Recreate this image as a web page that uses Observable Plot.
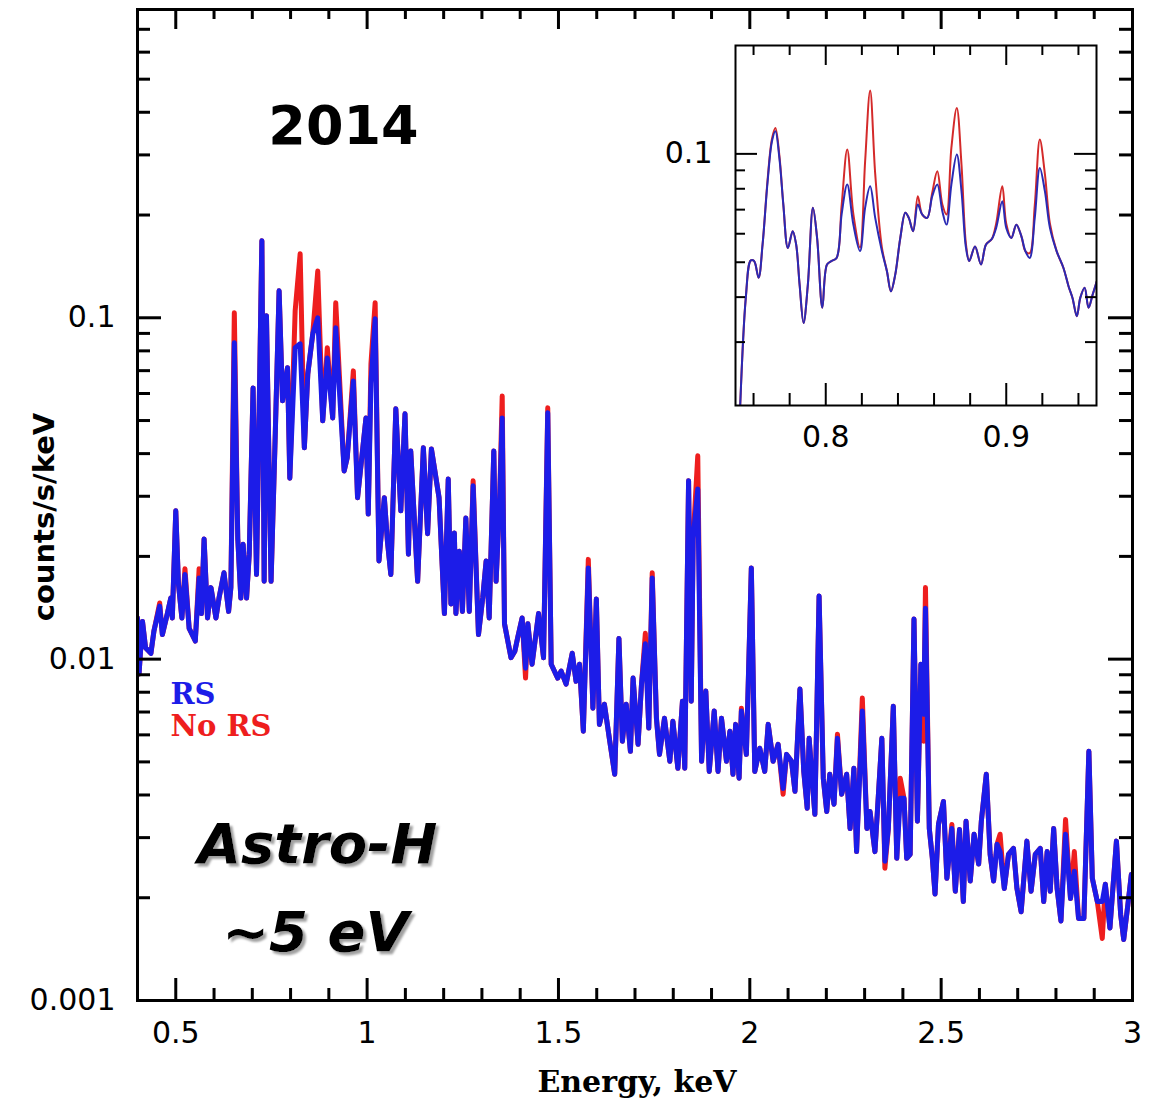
<!DOCTYPE html>
<html>
<head>
<meta charset="utf-8">
<script src="https://cdn.jsdelivr.net/npm/d3@7"></script>
<script src="https://cdn.jsdelivr.net/npm/@observablehq/plot@0.6"></script>
<style>
  body { margin: 0; background: #fff; }
  #wrap { position: relative; width: 1156px; height: 1101px; background: #fff; }
  #main { position: absolute; left: 0; top: 0; }
  #inset { position: absolute; left: 640px; top: 30px; }
</style>
</head>
<body>
<div id="wrap"><div id="main"></div><div id="inset"></div></div>
<script>
// ---------- main spectrum (energy in keV, counts/s/keV) ----------
const energy = [0.400,0.404,0.413,0.421,0.435,0.443,0.458,0.465,0.478,0.487,0.491,0.500,0.507,0.516,0.524,0.535,0.551,0.561,0.567,0.574,0.583,0.592,0.605,0.613,0.626,0.638,0.644,0.653,0.662,0.670,0.676,0.685,0.692,0.702,0.711,0.725,0.731,0.737,0.749,0.760,0.770,0.779,0.792,0.798,0.812,0.825,0.836,0.845,0.858,0.871,0.884,0.896,0.910,0.918,0.940,0.948,0.964,0.975,0.997,1.003,1.010,1.021,1.031,1.045,1.053,1.062,1.075,1.088,1.099,1.108,1.114,1.132,1.147,1.158,1.168,1.188,1.202,1.212,1.219,1.228,1.232,1.241,1.249,1.258,1.267,1.277,1.291,1.302,1.311,1.319,1.331,1.337,1.346,1.353,1.359,1.376,1.386,1.393,1.405,1.414,1.420,1.431,1.448,1.461,1.472,1.481,1.498,1.507,1.520,1.536,1.546,1.555,1.565,1.578,1.590,1.599,1.607,1.620,1.634,1.647,1.658,1.667,1.677,1.688,1.695,1.708,1.717,1.727,1.736,1.745,1.756,1.764,1.777,1.791,1.799,1.812,1.824,1.830,1.840,1.847,1.852,1.864,1.874,1.885,1.894,1.907,1.917,1.926,1.939,1.948,1.956,1.963,1.972,1.978,1.991,2.004,2.013,2.026,2.039,2.048,2.061,2.074,2.087,2.096,2.109,2.118,2.131,2.141,2.150,2.155,2.170,2.181,2.192,2.201,2.209,2.220,2.229,2.240,2.253,2.262,2.272,2.279,2.294,2.306,2.314,2.327,2.345,2.353,2.362,2.375,2.384,2.393,2.403,2.410,2.419,2.429,2.438,2.447,2.454,2.459,2.469,2.477,2.484,2.493,2.506,2.515,2.528,2.537,2.548,2.558,2.565,2.576,2.586,2.598,2.605,2.618,2.628,2.637,2.646,2.654,2.665,2.676,2.689,2.698,2.709,2.724,2.735,2.746,2.759,2.768,2.777,2.785,2.794,2.803,2.813,2.825,2.838,2.848,2.859,2.873,2.886,2.895,2.908,2.921,2.929,2.941,2.958,2.969,2.977,2.988,2.997,3.000];

const rs = [0.0132,0.00904,0.0129,0.0108,0.0104,0.0121,0.0143,0.0118,0.0136,0.0151,0.0132,0.0272,0.0166,0.0132,0.0177,0.0123,0.0113,0.0173,0.0136,0.0225,0.0132,0.0162,0.0132,0.0151,0.0179,0.0138,0.0162,0.0845,0.0226,0.0151,0.0217,0.0151,0.0203,0.0623,0.0177,0.168,0.0169,0.1014,0.0169,0.0457,0.120,0.0571,0.0714,0.0339,0.0817,0.0839,0.0416,0.0685,0.0898,0.100,0.0499,0.0763,0.0509,0.0935,0.0356,0.0389,0.0653,0.0297,0.0509,0.0266,0.0641,0.0993,0.0194,0.0297,0.0222,0.0177,0.0541,0.0272,0.0523,0.0203,0.0407,0.0169,0.0416,0.0233,0.0413,0.0297,0.0136,0.0337,0.0145,0.0234,0.0136,0.0207,0.0138,0.0259,0.0138,0.0322,0.0118,0.0151,0.0194,0.0132,0.0407,0.0169,0.0285,0.0509,0.0127,0.0101,0.01055,0.0115,0.0132,0.00941,0.0127,0.00966,0.0136,0.0101,0.0527,0.00966,0.00880,0.00923,0.00845,0.0104,0.00861,0.00966,0.00615,0.0185,0.00718,0.0150,0.00644,0.00738,0.00575,0.00460,0.0115,0.00575,0.00738,0.00537,0.00880,0.00563,0.00845,0.0111,0.00628,0.0173,0.00671,0.00526,0.00671,0.00502,0.00658,0.00479,0.00753,0.00479,0.0333,0.00753,0.0226,0.0315,0.00502,0.00806,0.00469,0.00705,0.00469,0.00671,0.00502,0.00615,0.00460,0.00644,0.00448,0.00705,0.00526,0.0185,0.00469,0.00548,0.00469,0.00644,0.00502,0.00563,0.00418,0.00526,0.00502,0.00410,0.00817,0.00469,0.00366,0.00586,0.00351,0.0153,0.00448,0.00358,0.00460,0.00376,0.00586,0.00402,0.00460,0.00319,0.00479,0.00273,0.00705,0.00319,0.00358,0.00273,0.00586,0.00256,0.00319,0.00728,0.00261,0.00391,0.00391,0.00261,0.00268,0.0131,0.00335,0.00966,0.00690,0.0141,0.00319,0.00261,0.00205,0.00328,0.00383,0.00228,0.00319,0.00209,0.00317,0.00195,0.00335,0.00224,0.00307,0.00251,0.00335,0.00460,0.00268,0.00224,0.00287,0.00273,0.00213,0.00268,0.00279,0.00213,0.00182,0.00293,0.00209,0.00268,0.00279,0.00195,0.00273,0.00209,0.00319,0.00213,0.00171,0.00307,0.00199,0.00239,0.00174,0.00174,0.00537,0.00228,0.00195,0.00195,0.00219,0.00163,0.00293,0.00179,0.00151,0.00191,0.00234,0.00220];

const noRs = [0.0132,0.00904,0.0129,0.0108,0.0104,0.0121,0.0146,0.0118,0.0136,0.0151,0.0132,0.0272,0.0166,0.0132,0.0184,0.0123,0.0113,0.0184,0.0136,0.0225,0.0132,0.0162,0.0132,0.0151,0.0179,0.0138,0.0162,0.1034,0.0226,0.0151,0.0217,0.0151,0.0203,0.0623,0.0177,0.168,0.0169,0.1014,0.0169,0.0457,0.120,0.0571,0.0714,0.0339,0.1048,0.154,0.0416,0.0685,0.0898,0.137,0.0499,0.0817,0.0509,0.1107,0.0356,0.0389,0.0699,0.0297,0.0509,0.0266,0.0733,0.1107,0.0194,0.0297,0.0222,0.0177,0.0541,0.0272,0.0523,0.0203,0.0407,0.0169,0.0416,0.0233,0.0413,0.0297,0.0136,0.0337,0.0145,0.0234,0.0136,0.0207,0.0138,0.0259,0.0138,0.0333,0.0118,0.0151,0.0194,0.0132,0.0407,0.0169,0.0285,0.0590,0.0127,0.0101,0.01055,0.0115,0.0132,0.00880,0.0127,0.00966,0.0136,0.0101,0.0545,0.00966,0.00880,0.00923,0.00845,0.0104,0.00861,0.00966,0.00615,0.0196,0.00718,0.0150,0.00644,0.00738,0.00575,0.00460,0.0115,0.00575,0.00738,0.00537,0.00880,0.00563,0.00845,0.0119,0.00628,0.0179,0.00671,0.00526,0.00671,0.00502,0.00658,0.00479,0.00753,0.00479,0.0333,0.00753,0.0226,0.0394,0.00502,0.00806,0.00469,0.00705,0.00469,0.00671,0.00502,0.00615,0.00460,0.00644,0.00448,0.00718,0.00526,0.0185,0.00469,0.00548,0.00469,0.00644,0.00502,0.00563,0.00402,0.00526,0.00502,0.00410,0.00817,0.00469,0.00366,0.00586,0.00351,0.0153,0.00448,0.00358,0.00460,0.00376,0.00603,0.00402,0.00460,0.00319,0.00479,0.00273,0.00769,0.00319,0.00358,0.00273,0.00586,0.00244,0.00319,0.00728,0.00261,0.00448,0.00391,0.00261,0.00268,0.0131,0.00335,0.00966,0.00575,0.0162,0.00319,0.00261,0.00205,0.00328,0.00383,0.00228,0.00328,0.00209,0.00317,0.00195,0.00335,0.00224,0.00307,0.00251,0.00335,0.00460,0.00268,0.00224,0.00287,0.00307,0.00213,0.00268,0.00279,0.00213,0.00182,0.00293,0.00209,0.00268,0.00279,0.00195,0.00273,0.00209,0.00319,0.00213,0.00171,0.00339,0.00199,0.00273,0.00174,0.00174,0.00537,0.00228,0.00195,0.00152,0.00219,0.00163,0.00293,0.00179,0.00151,0.00191,0.00234,0.00220];

// ---------- inset (0.75-0.95 keV zoom) ----------
const insetEnergy = [0.7500,0.7557,0.7585,0.7603,0.7628,0.7650,0.7678,0.7702,0.7721,0.7743,0.7765,0.7790,0.7817,0.7836,0.7855,0.7877,0.7901,0.7929,0.7952,0.7981,0.8007,0.8032,0.8060,0.8088,0.8119,0.8153,0.8190,0.8218,0.8246,0.8274,0.8311,0.8339,0.8361,0.8385,0.8413,0.8441,0.8460,0.8484,0.8510,0.8534,0.8562,0.8590,0.8618,0.8646,0.8669,0.8696,0.8726,0.8752,0.8777,0.8795,0.8827,0.8860,0.8888,0.8920,0.8944,0.8978,0.9000,0.9028,0.9056,0.9084,0.9106,0.9130,0.9158,0.9186,0.9214,0.9242,0.9279,0.9317,0.9345,0.9367,0.9391,0.9410,0.9434,0.9456,0.9479,0.9508];
const insetRs = [0.0085,0.0398,0.0506,0.0504,0.0453,0.0560,0.0839,0.1084,0.1156,0.0975,0.0723,0.0548,0.0610,0.0560,0.0434,0.0339,0.0434,0.0708,0.0584,0.0374,0.0493,0.0504,0.0514,0.0679,0.0822,0.0636,0.0537,0.0708,0.0813,0.0664,0.0537,0.0472,0.0415,0.0462,0.0584,0.0686,0.0664,0.0610,0.0723,0.0679,0.0664,0.0763,0.0822,0.0693,0.0636,0.0822,0.0996,0.0788,0.0548,0.0504,0.0553,0.0493,0.0560,0.0580,0.0623,0.0739,0.0623,0.0584,0.0636,0.0590,0.0537,0.0514,0.0664,0.0914,0.0788,0.0623,0.0537,0.0482,0.0429,0.0398,0.0354,0.0398,0.0425,0.0374,0.0407,0.0453];
const insetNoRs = [0.0085,0.0398,0.0506,0.0504,0.0453,0.0560,0.0850,0.1100,0.1180,0.0990,0.0723,0.0548,0.0610,0.0560,0.0434,0.0339,0.0434,0.0708,0.0584,0.0374,0.0493,0.0504,0.0514,0.0720,0.1028,0.0680,0.0550,0.0950,0.1500,0.0880,0.0550,0.0472,0.0415,0.0462,0.0584,0.0686,0.0664,0.0610,0.0763,0.0679,0.0664,0.0780,0.0895,0.0723,0.0679,0.1039,0.1340,0.0934,0.0560,0.0504,0.0553,0.0493,0.0560,0.0580,0.0640,0.0813,0.0640,0.0584,0.0636,0.0590,0.0537,0.0530,0.0720,0.1096,0.0880,0.0640,0.0537,0.0482,0.0429,0.0398,0.0354,0.0398,0.0425,0.0374,0.0407,0.0453];

// ---------- tick values ----------
const xMajor = [0.5, 1, 1.5, 2, 2.5, 3];
const xMinor = [0.6,0.7,0.8,0.9,1.1,1.2,1.3,1.4,1.6,1.7,1.8,1.9,2.1,2.2,2.3,2.4,2.6,2.7,2.8,2.9];
const yMajor = [0.001, 0.01, 0.1];
const yMinor = [0.002,0.003,0.004,0.005,0.006,0.007,0.008,0.009,0.02,0.03,0.04,0.05,0.06,0.07,0.08,0.09,0.2,0.3,0.4,0.5,0.6,0.7];
const insetXMajor = [0.8, 0.9];
const insetXMinor = [0.76,0.78,0.82,0.84,0.86,0.88,0.92,0.94];
const insetYMajor = [0.1];
const insetYMinor = [0.03,0.04,0.05,0.06,0.07,0.08,0.09];

const BLUE = "#1c1ce8", RED = "#ee1e1e";

const mainData = energy.map((e, i) => ({e, rs: rs[i], noRs: noRs[i]}));
const insetData = insetEnergy.map((e, i) => ({e, rs: insetRs[i], noRs: insetNoRs[i]}));

// main layout
const W = 1156, H = 1101, mL = 137, mR = 24, mT = 9, mB = 101;
const fw = W - mL - mR, fh = H - mT - mB;
const tk = {stroke: "black", strokeWidth: 3};
const txt = {text: d => d, lineAnchor: "middle"};

const mainPlot = Plot.plot({
  width: W, height: H,
  marginLeft: mL, marginRight: mR, marginTop: mT, marginBottom: mB,
  style: {fontFamily: "DejaVu Sans", fontSize: "30px", color: "black", background: "white"},
  x: {domain: [0.4, 3.0], label: null},
  y: {type: "log", domain: [0.001, 0.8], label: null},
  marks: [
    Plot.line(mainData, {x: "e", y: "noRs", stroke: RED, strokeWidth: 5, strokeLinejoin: "round", clip: true}),
    Plot.line(mainData, {x: "e", y: "rs", stroke: BLUE, strokeWidth: 5, strokeLinejoin: "round", clip: true}),
    // inward ticks, all four sides
    Plot.tickX(xMajor, {x: d => d, insetTop: fh - 22, ...tk}),
    Plot.tickX(xMinor, {x: d => d, insetTop: fh - 12, ...tk}),
    Plot.tickX(xMajor, {x: d => d, insetBottom: fh - 20, ...tk}),
    Plot.tickX(xMinor, {x: d => d, insetBottom: fh - 10, ...tk}),
    Plot.tickY(yMajor, {y: d => d, insetRight: fw - 24, ...tk}),
    Plot.tickY(yMinor, {y: d => d, insetRight: fw - 13, ...tk}),
    Plot.tickY(yMajor, {y: d => d, insetLeft: fw - 24, ...tk}),
    Plot.tickY(yMinor, {y: d => d, insetLeft: fw - 13, ...tk}),
    Plot.frame({stroke: "black", strokeWidth: 3}),
    Plot.axisX(xMajor, {tickSize: 0, tickPadding: 21, tickFormat: d => String(d), label: null}),
    Plot.axisY(yMajor, {tickSize: 0, tickPadding: 22, tickFormat: d => String(d), label: null}),
    // axis titles
    Plot.text(["counts/s/keV"], {...txt, frameAnchor: "left", dx: -93, dy: 12, rotate: -90,
      fontSize: 29, fontWeight: "bold", fontFamily: "DejaVu Sans", textAnchor: "middle"}),
    Plot.text(["Energy, keV"], {...txt, frameAnchor: "bottom", dx: 2, dy: 82,
      fontSize: 30, fontWeight: "bold", fontFamily: "DejaVu Serif", textAnchor: "middle"}),
    // annotations
    Plot.text(["2014"], {...txt, frameAnchor: "top-left", dx: 206, dy: 117,
      fontSize: 54, fontWeight: "bold", fontFamily: "DejaVu Sans", textAnchor: "middle"}),
    Plot.text(["Astro-H"], {...txt, frameAnchor: "top-left", dx: 180, dy: 836,
      fontSize: 56, fontWeight: "bold", fontStyle: "italic", fontFamily: "DejaVu Sans", textAnchor: "middle", fill: "black"}),
    Plot.text(["~5 eV"], {...txt, frameAnchor: "top-left", dx: 178, dy: 924,
      fontSize: 56, fontWeight: "bold", fontStyle: "italic", fontFamily: "DejaVu Sans", textAnchor: "middle", fill: "black"}),
    // legend
    Plot.text(["RS"], {...txt, frameAnchor: "top-left", dx: 33, dy: 685,
      fontSize: 29, fontWeight: "bold", fontFamily: "DejaVu Serif", textAnchor: "start", fill: BLUE}),
    Plot.text(["No RS"], {...txt, frameAnchor: "top-left", dx: 33, dy: 717,
      fontSize: 29, fontWeight: "bold", fontFamily: "DejaVu Serif", textAnchor: "start", fill: RED})
  ]
});

// grey drop shadow for the "Astro-H / ~5 eV" annotation
const msvg = d3.select(mainPlot);
msvg.append("defs").append("filter")
  .attr("id", "txtshadow").attr("x", "-10%").attr("y", "-20%").attr("width", "130%").attr("height", "150%")
  .append("feDropShadow").attr("dx", 3).attr("dy", 3).attr("stdDeviation", 0.8)
  .attr("flood-color", "#a0a0a0").attr("flood-opacity", 1);
msvg.selectAll("text").filter(function() { return this.textContent === "Astro-H" || this.textContent === "~5 eV"; })
  .attr("filter", "url(#txtshadow)");
document.getElementById("main").appendChild(mainPlot);

// inset layout
const iW = 466, iH = 430, imL = 95, imR = 10, imT = 15, imB = 55;
const ifw = iW - imL - imR, ifh = iH - imT - imB;
const itk = {stroke: "black", strokeWidth: 2};

const insetPlot = Plot.plot({
  width: iW, height: iH,
  marginLeft: imL, marginRight: imR, marginTop: imT, marginBottom: imB,
  style: {fontFamily: "DejaVu Sans", fontSize: "30px", color: "black", background: "transparent"},
  x: {domain: [0.75, 0.95], label: null},
  y: {type: "log", domain: [0.02, 0.2], label: null},
  marks: [
    Plot.frame({fill: "white"}),
    Plot.line(insetData, {x: "e", y: "noRs", stroke: "#d42a2a", strokeWidth: 2, curve: "catmull-rom", clip: true}),
    Plot.line(insetData, {x: "e", y: "rs", stroke: "#2a2ab4", strokeWidth: 2, curve: "catmull-rom", clip: true}),
    Plot.tickX(insetXMajor, {x: d => d, insetTop: ifh - 22, ...itk}),
    Plot.tickX(insetXMinor, {x: d => d, insetTop: ifh - 12, ...itk}),
    Plot.tickX(insetXMajor, {x: d => d, insetBottom: ifh - 20, ...itk}),
    Plot.tickX(insetXMinor, {x: d => d, insetBottom: ifh - 10, ...itk}),
    Plot.tickY(insetYMajor, {y: d => d, insetRight: ifw - 22, ...itk}),
    Plot.tickY(insetYMinor, {y: d => d, insetRight: ifw - 10, ...itk}),
    Plot.tickY(insetYMajor, {y: d => d, insetLeft: ifw - 22, ...itk}),
    Plot.tickY(insetYMinor, {y: d => d, insetLeft: ifw - 11, ...itk}),
    Plot.frame({stroke: "black", strokeWidth: 2}),
    Plot.axisX(insetXMajor, {tickSize: 0, tickPadding: 20, tickFormat: d => String(d), label: null}),
    Plot.axisY(insetYMajor, {tickSize: 0, tickPadding: 23, tickFormat: d => String(d), label: null})
  ]
});
document.getElementById("inset").appendChild(insetPlot);
</script>
</body>
</html>
